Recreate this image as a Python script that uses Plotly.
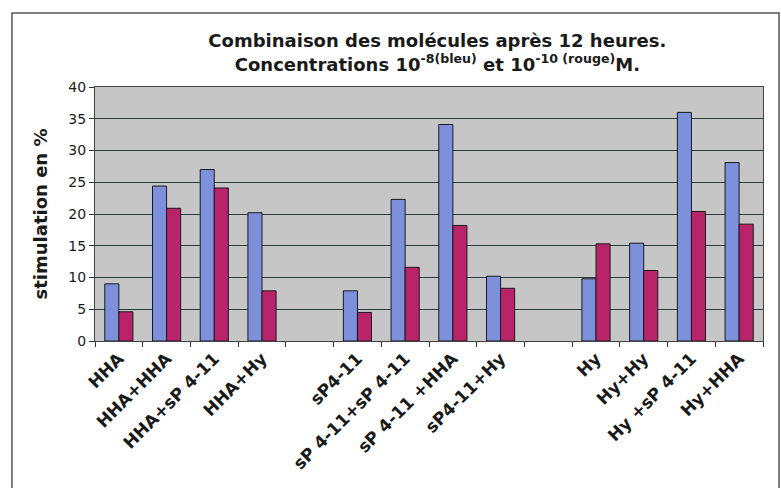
import plotly.graph_objects as go

# Catégories (les deux vides servent d'espaces entre les groupes)
categories = ["HHA", "HHA+HHA", "HHA+sP 4-11", "HHA+Hy", " ",
              "sP4-11", "sP 4-11+sP 4-11", "sP 4-11 +HHA", "sP4-11+Hy", "  ",
              "Hy", "Hy+Hy", "Hy +sP 4-11", "Hy+HHA"]
bleu = [9.0, 24.4, 27.0, 20.2, None,
        7.9, 22.3, 34.1, 10.2, None,
        9.8, 15.4, 36.0, 28.1]
rouge = [4.6, 20.9, 24.1, 7.9, None,
         4.5, 11.6, 18.2, 8.3, None,
         15.3, 11.1, 20.4, 18.4]
y_ticks = [0, 5, 10, 15, 20, 25, 30, 35, 40]

fig = go.Figure()
fig.add_trace(go.Bar(x=categories, y=bleu, name="10-8",
                     marker_color="#7d90dc",
                     marker_line=dict(color="#1a1a1a", width=1)))
fig.add_trace(go.Bar(x=categories, y=rouge, name="10-10",
                     marker_color="#b8236a",
                     marker_line=dict(color="#1a1a1a", width=1)))

# cadre extérieur du graphique
fig.add_shape(type="rect", xref="paper", yref="paper",
              x0=-0.1243, x1=1.024, y0=-0.6, y1=1.2913,
              line=dict(color="#555555", width=1.5), layer="below")

fig.update_layout(
    width=781, height=488,
    margin=dict(l=95, r=18, t=87, b=147),
    paper_bgcolor="white",
    plot_bgcolor="#c6c6c6",
    showlegend=False,
    barmode="group",
    bargap=0.41,
    bargroupgap=0,
    font=dict(family="DejaVu Sans", color="#1a1a1a"),
    title=dict(
        text="<b>Combinaison des molécules après 12 heures.<br>"
             "Concentrations 10<sup>-8(bleu)</sup> et 10<sup>-10 (rouge)</sup>M.</b>",
        x=0.56, xanchor="center", y=0.903, yanchor="top",
        font=dict(size=18, family="DejaVu Sans", color="#1a1a1a"),
    ),
    xaxis=dict(
        type="category",
        tickangle=-45,
        tickfont=dict(size=17, family="DejaVu Sans", color="#1a1a1a", weight="bold"),
        ticks="outside", tickson="boundaries", ticklen=5,
        tickcolor="#333333",
        showline=True, linecolor="#444444", linewidth=1, mirror=True,
        showgrid=False,
    ),
    yaxis=dict(
        range=[0, 40],
        tickvals=y_ticks,
        tickfont=dict(size=14, family="DejaVu Sans", color="#1a1a1a"),
        ticks="outside", ticklen=5, tickcolor="#333333",
        showline=True, linecolor="#444444", linewidth=1, mirror=True,
        showgrid=True, gridcolor="#2f3a3a", gridwidth=1,
        zeroline=False,
        title=dict(text="<b>stimulation en %</b>", standoff=16,
                   font=dict(size=18, family="DejaVu Sans", color="#1a1a1a")),
    ),
)

fig.write_html("out.html", config={"displayModeBar": False},
               post_script="document.body.style.margin='0';")
